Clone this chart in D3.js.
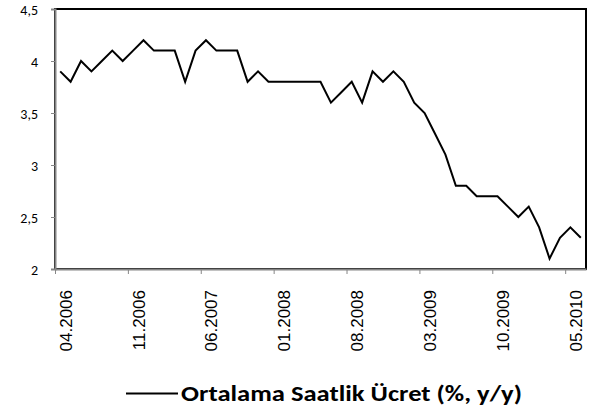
<!DOCTYPE html>
<html>
<head>
<meta charset="utf-8">
<script src="https://cdn.jsdelivr.net/npm/d3@7/dist/d3.min.js"></script>
<style>
  body { margin: 0; background: #fff; }
  svg { display: block; }
</style>
</head>
<body>
<div id="chart"></div>
<script>
  'use strict';

  var months = [
    "04.2006", "05.2006", "06.2006", "07.2006", "08.2006", "09.2006", "10.2006",
    "11.2006", "12.2006", "01.2007", "02.2007", "03.2007", "04.2007", "05.2007",
    "06.2007", "07.2007", "08.2007", "09.2007", "10.2007", "11.2007", "12.2007",
    "01.2008", "02.2008", "03.2008", "04.2008", "05.2008", "06.2008", "07.2008",
    "08.2008", "09.2008", "10.2008", "11.2008", "12.2008", "01.2009", "02.2009",
    "03.2009", "04.2009", "05.2009", "06.2009", "07.2009", "08.2009", "09.2009",
    "10.2009", "11.2009", "12.2009", "01.2010", "02.2010", "03.2010", "04.2010",
    "05.2010", "06.2010"
  ];

  var wage = [
    3.9, 3.8, 4.0, 3.9, 4.0, 4.1, 4.0,
    4.1, 4.2, 4.1, 4.1, 4.1, 3.8, 4.1,
    4.2, 4.1, 4.1, 4.1, 3.8, 3.9, 3.8,
    3.8, 3.8, 3.8, 3.8, 3.8, 3.6, 3.7,
    3.8, 3.6, 3.9, 3.8, 3.9, 3.8, 3.6,
    3.5, 3.3, 3.1, 2.8, 2.8, 2.7, 2.7,
    2.7, 2.6, 2.5, 2.6, 2.4, 2.1, 2.3,
    2.4, 2.3
  ];

  var tickLabels = ["04.2006", "11.2006", "06.2007", "01.2008", "08.2008", "03.2009", "10.2009", "05.2010"];
  var yTicks = [2, 2.5, 3, 3.5, 4, 4.5];
  var seriesName = "Ortalama Saatlik Ücret (%, y/y)";

  var width = 606, height = 412;
  var plotLeft = 55, plotRight = 586, plotTop = 9, plotBottom = 269;
  var axisGrey = "#868686";

  var svg = d3.select("#chart").append("svg")
    .attr("width", width)
    .attr("height", height);

  // month index -> pixel (each month one slot, point in slot middle)
  var x = d3.scaleLinear().domain([0, months.length]).range([plotLeft, plotRight]);
  var y = d3.scaleLinear().domain([2, 4.5]).range([plotBottom, plotTop]);

  // plot area frame
  svg.append("rect")
    .attr("x", plotLeft)
    .attr("y", plotTop)
    .attr("width", plotRight - plotLeft)
    .attr("height", plotBottom - plotTop)
    .attr("fill", "none")
    .attr("stroke", "#000")
    .attr("stroke-width", 2);

  var line = d3.line()
    .x(function (d, i) { return x(i + 0.5); })
    .y(function (d) { return y(d); });

  svg.append("path")
    .datum(wage)
    .attr("d", line)
    .attr("fill", "none")
    .attr("stroke", "#000")
    .attr("stroke-width", 2)
    .attr("stroke-linejoin", "miter");

  // y axis
  var yAxis = d3.axisLeft(y)
    .tickValues(yTicks)
    .tickSize(4)
    .tickPadding(13)
    .tickFormat(function (d) { return String(d).replace(".", ","); });

  var gy = svg.append("g")
    .attr("transform", "translate(" + plotLeft + ",0)")
    .call(yAxis);
  gy.select(".domain").attr("stroke", axisGrey).attr("stroke-width", 2);
  gy.selectAll(".tick line").attr("stroke", axisGrey);
  gy.selectAll(".tick text")
    .attr("fill", "#000")
    .attr("dy", "0.42em")
    .style("font-family", "Carlito, Lato, sans-serif")
    .style("font-size", "14px");

  // x axis: ticks on month boundaries every 7 months
  var tickIdx = tickLabels.map(function (m) { return months.indexOf(m); });
  var xAxis = d3.axisBottom(x)
    .tickValues(tickIdx)
    .tickSize(5)
    .tickSizeOuter(0)
    .tickFormat("");

  var gx = svg.append("g")
    .attr("transform", "translate(0," + plotBottom + ")")
    .call(xAxis);
  gx.select(".domain").attr("stroke", axisGrey).attr("stroke-width", 2);
  gx.selectAll(".tick line").attr("stroke", axisGrey);

  svg.append("g").selectAll("text")
    .data(tickIdx)
    .enter().append("text")
    .attr("transform", function (d) {
      return "translate(" + (x(d + 0.5) + 11.5) + "," + (plotBottom + 21) + ") rotate(-90)";
    })
    .attr("text-anchor", "end")
    .style("font-family", "Arial, 'Liberation Sans', sans-serif")
    .style("font-size", "17px")
    .attr("fill", "#000")
    .text(function (d) { return months[d]; });

  // legend
  var legend = svg.append("g");
  legend.append("line")
    .attr("x1", 126)
    .attr("x2", 178)
    .attr("y1", 393.5)
    .attr("y2", 393.5)
    .attr("stroke", "#000")
    .attr("stroke-width", 2);
  legend.append("text")
    .attr("x", 181)
    .attr("y", 400.5)
    .attr("textLength", 341)
    .attr("lengthAdjust", "spacingAndGlyphs")
    .style("font-family", "Carlito, Lato, sans-serif")
    .style("font-weight", "bold")
    .style("font-size", "22px")
    .attr("fill", "#000")
    .text(seriesName);
</script>
</body>
</html>
